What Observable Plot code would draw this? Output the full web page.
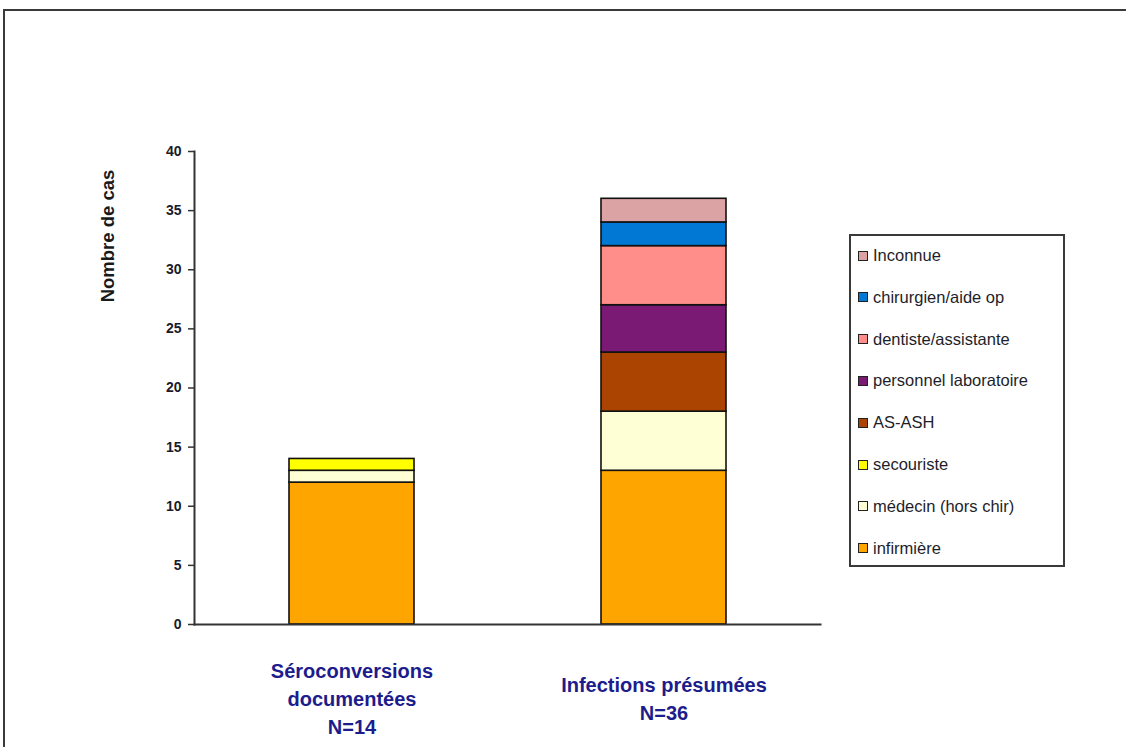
<!DOCTYPE html>
<html>
<head>
<meta charset="utf-8">
<script src="https://cdn.jsdelivr.net/npm/d3@7"></script>
<script src="https://cdn.jsdelivr.net/npm/@observablehq/plot@0.6"></script>
<style>
  html, body { margin: 0; padding: 0; background: #fff; overflow: hidden; width: 1126px; height: 747px; }
  #wrap { position: relative; width: 1126px; height: 747px; font-family: "Liberation Sans", Arial, sans-serif; }
  #frame { position: absolute; left: 3px; top: 9px; width: 1200px; height: 800px; border: 2px solid #3a3a3a; box-sizing: border-box; }
  #chart { position: absolute; left: 0; top: 0; }
  #legend { position: absolute; left: 849px; top: 234px; width: 216px; height: 333px; border: 2px solid #3a3a3a; box-sizing: border-box; background: #fff; }
  .item { position: absolute; left: 7px; font-size: 16.5px; color: #1e1e2a; white-space: nowrap; display: flex; align-items: center; }
  .sw { width: 8px; height: 8px; border: 1px solid #222; margin-right: 5px; }
</style>
</head>
<body>
<div id="wrap">
  <div id="frame"></div>
  <div id="chart"></div>
  <div id="legend"></div>
</div>
<script>
const categories = ["Séroconversions documentées", "Infections présumées"];
const categoryLabels = ["Séroconversions\ndocumentées\nN=14", "Infections présumées\nN=36"];
const roles = ["infirmière", "médecin (hors chir)", "secouriste", "AS-ASH", "personnel laboratoire", "dentiste/assistante", "chirurgien/aide op", "Inconnue"];
const roleColors = ["#FFA500", "#FFFFD6", "#FFFF00", "#AA4400", "#7B1A75", "#FF8E8A", "#0078D4", "#DBA3A3"];
const seroValues = [12, 1, 1, 0, 0, 0, 0, 0];
const presValues = [13, 5, 0, 5, 4, 5, 2, 2];
const yTicks = [0, 5, 10, 15, 20, 25, 30, 35, 40];

const data = [];
roles.forEach((r, i) => {
  if (seroValues[i] > 0) data.push({cat: categories[0], role: r, value: seroValues[i]});
});
roles.forEach((r, i) => {
  if (presValues[i] > 0) data.push({cat: categories[1], role: r, value: presValues[i]});
});

const labelOf = new Map(categories.map((c, i) => [c, categoryLabels[i]]));

const chart = Plot.plot({
  width: 1126,
  height: 747,
  marginLeft: 194,
  marginRight: 306,
  marginTop: 151,
  marginBottom: 123,
  style: {fontFamily: "'Liberation Sans', Arial, sans-serif", background: "transparent", overflow: "visible"},
  x: {domain: categories, paddingInner: 0.6, paddingOuter: 0.303, axis: null},
  y: {domain: [0, 40], axis: null},
  color: {domain: roles, range: roleColors},
  marks: [
    Plot.barY(data, {x: "cat", y: "value", fill: "role", stroke: "#111", strokeWidth: 1.6}),
    Plot.frame({anchor: "left", stroke: "#333", strokeWidth: 2}),
    Plot.frame({anchor: "bottom", stroke: "#333", strokeWidth: 2}),
    Plot.axisY({ticks: yTicks, tickSize: 6, tickPadding: 7, fontSize: 14, fontWeight: "bold", fill: "#1a1a2a", stroke: "#333", strokeWidth: 1.5, label: null, tickFormat: d => d}),
    Plot.axisX({tickSize: 0, tickPadding: 73, fontSize: 20, fontWeight: "bold", fill: "#1c1c8c", lineHeight: 1.4, lineAnchor: "middle", label: null, tickFormat: d => labelOf.get(d)}),
    Plot.text(["Nombre de cas"], {frameAnchor: "left", textAnchor: "middle", rotate: -90, dx: -86, dy: -152, fontSize: 18.5, fontWeight: "bold", fill: "#1a1a1a"})
  ]
});
document.getElementById("chart").appendChild(chart);

// legend (top to bottom = reverse stacking order)
const legend = document.getElementById("legend");
const order = roles.map((r, i) => i).reverse();
order.forEach((ri, k) => {
  const div = document.createElement("div");
  div.className = "item";
  div.style.top = (10 + k * 41.8) + "px";
  const sw = document.createElement("span");
  sw.className = "sw";
  sw.style.background = roleColors[ri];
  div.appendChild(sw);
  div.appendChild(document.createTextNode(roles[ri]));
  legend.appendChild(div);
});
</script>
</body>
</html>
